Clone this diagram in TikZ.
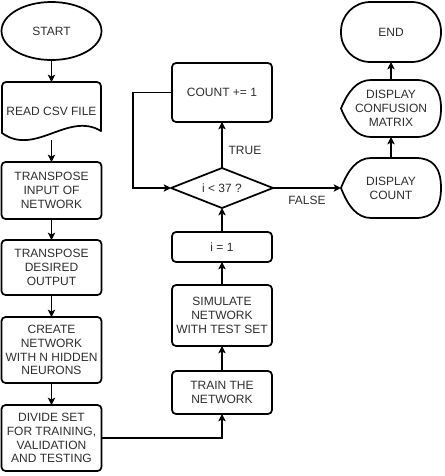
\documentclass[tikz,border=0pt]{standalone}
\usepackage{fontspec}
\setmainfont{Liberation Sans}
\usetikzlibrary{shapes.geometric,arrows.meta}
\begin{document}
\begin{tikzpicture}[x=0.75pt,y=-0.75pt,
  font=\fontsize{9}{10.3}\selectfont,
  every node/.style={inner sep=0pt,outer sep=0pt,align=center,text=black!82},
  outline/.style={draw=black,line width=1.3pt,line join=round,line cap=round},
  procbox/.style={outline,rectangle,rounded corners=3pt,minimum width=75pt},
  frame/.style={rectangle,minimum width=75pt},
  conn/.style={draw=black,line width=0.8pt,-{Stealth[length=5.5pt,width=5.5pt,inset=1.3pt]}},
  lbl/.style={font=\fontsize{9}{10.3}\selectfont}]
\useasboundingbox (0,0) rectangle (444,476);

% left column
\node[outline,ellipse,minimum width=75pt,minimum height=43.5pt] (start) at (51.5,31) {START};
\node[frame,minimum height=43.5pt] (read) at (51.5,111) {READ CSV FILE};
\begin{scope}[shift={(read.center)}]
  \draw[outline,rounded corners=3pt] (-49.5,22) -- (-49.5,-29) -- (49.5,-29) -- (49.5,20);
  \draw[outline] (49.5,20) .. controls (16.5,0) and (-16.5,46) .. (-49.5,22);
\end{scope}
\node[procbox,minimum height=42.75pt] (tin) at (51.5,190.5) {TRANSPOSE\\INPUT OF\\NETWORK};
\node[procbox,minimum height=41.25pt] (tdo) at (51.5,267.5) {TRANSPOSE\\DESIRED\\OUTPUT};
\node[procbox,minimum height=49.5pt] (cre) at (51.5,350) {CREATE\\NETWORK\\WITH N HIDDEN\\NEURONS};
\node[procbox,minimum height=49.5pt] (div) at (51.5,438) {DIVIDE SET\\FOR TRAINING,\\VALIDATION\\AND TESTING};

% middle column
\node[procbox,minimum height=32.25pt] (train) at (222,392.5) {TRAIN THE\\NETWORK};
\node[procbox,minimum height=45.75pt] (sim) at (222,315.5) {SIMULATE\\NETWORK\\WITH TEST SET};
\node[procbox,minimum height=22.5pt] (ione) at (222,247) {i = 1};
\node[outline,diamond,minimum width=76.5pt,minimum height=30pt,shape aspect=2.5] (dec) at (222,188) {i < 37 ?};
\node[procbox,minimum height=44.25pt] (cnt) at (222,92.5) {COUNT += 1};
\coordinate (loop) at (133,92.5);

% right column
\node[frame,minimum height=45pt] (dcount) at (391,188) {DISPLAY\\COUNT};
\node[frame,minimum height=42.75pt] (dconf) at (391,108.5) {DISPLAY\\CONFUSION\\MATRIX};
\foreach \n/\h in {dcount/30,dconf/28.5}{
  \draw[outline,shift={(\n.center)}] (-50,0) .. controls (-43,-0.6*\h) and (-34,-\h) .. (-20,-\h)
    -- (25,-\h) .. controls (42,-\h) and (50,-0.67*\h) .. (50,0)
    .. controls (50,0.67*\h) and (42,\h) .. (25,\h) -- (-20,\h)
    .. controls (-34,\h) and (-43,0.6*\h) .. cycle;
}
\node[outline,rectangle,rounded corners=22pt,minimum width=75pt,minimum height=45pt] (end) at (391,32) {END};

% connectors
\draw[conn] (start) -- (read);
\draw[conn] (read) -- (tin);
\draw[conn] (tin) -- (tdo);
\draw[conn] (tdo) -- (cre);
\draw[conn] (cre) -- (div);
\draw[conn] (div.east) -| (train.south);
\draw[conn] (train) -- (sim);
\draw[conn] (sim) -- (ione);
\draw[conn] (ione) -- (dec);
\draw[conn] (dec) -- node[lbl,right=5pt,pos=0.39] (true) {TRUE} (cnt);
\draw[conn] (cnt.west) -- (loop) |- (dec.west);
\draw[conn,line width=1.1pt] (dec.east) -- node[lbl,below=6pt] (false) {FALSE} (dcount.west);
\draw[conn] (dcount) -- (dconf);
\draw[conn] (dconf) -- (end);
\end{tikzpicture}
\end{document}
